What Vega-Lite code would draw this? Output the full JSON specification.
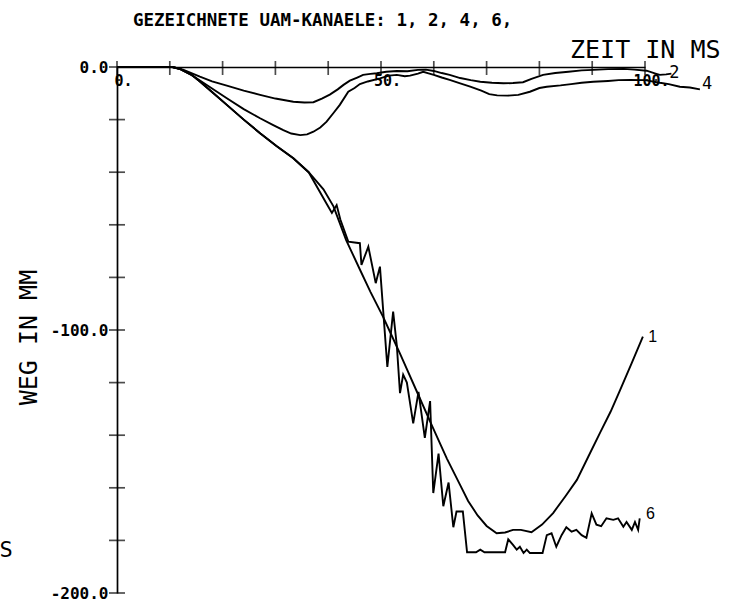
{
  "$schema": "https://vega.github.io/schema/vega-lite/v6.json",
  "width": 528,
  "height": 526,
  "autosize": "none",
  "padding": {"left": 117, "top": 67, "right": 91, "bottom": 7},
  "background": "white",
  "title": {
    "text": "GEZEICHNETE UAM-KANAELE: 1, 2, 4, 6,",
    "anchor": "start",
    "frame": "group",
    "dx": 16,
    "offset": 8,
    "font": "DejaVu Sans Mono",
    "fontSize": 17.5,
    "fontWeight": "bold",
    "color": "black"
  },
  "config": {
    "view": {"stroke": null},
    "axis": {"grid": false, "domainColor": "black", "tickColor": "black", "labelColor": "black", "titleColor": "black", "domainWidth": 1.7, "tickWidth": 1.7}
  },
  "resolve": {"axis": {"x": "independent", "y": "independent"}},
  "datasets": {
    "curves": [
      {"k": "1", "t": 0, "v": 0}, {"k": "1", "t": 10.5, "v": 0}, {"k": "1", "t": 12, "v": -0.8}, {"k": "1", "t": 14, "v": -2.8}, {"k": "1", "t": 15.7, "v": -5.5}, {"k": "1", "t": 18, "v": -9.5}, {"k": "1", "t": 20.8, "v": -14.4}, {"k": "1", "t": 24, "v": -20}, {"k": "1", "t": 27.1, "v": -25.2}, {"k": "1", "t": 30.2, "v": -30}, {"k": "1", "t": 33.4, "v": -34.7}, {"k": "1", "t": 36.3, "v": -40}, {"k": "1", "t": 39.1, "v": -46.5}, {"k": "1", "t": 41, "v": -53}, {"k": "1", "t": 43.4, "v": -65.8}, {"k": "1", "t": 46, "v": -77}, {"k": "1", "t": 48, "v": -85.5}, {"k": "1", "t": 50.4, "v": -95}, {"k": "1", "t": 52, "v": -102}, {"k": "1", "t": 53.6, "v": -109}, {"k": "1", "t": 56.7, "v": -123}, {"k": "1", "t": 59.8, "v": -137}, {"k": "1", "t": 62.5, "v": -149}, {"k": "1", "t": 65, "v": -159}, {"k": "1", "t": 66.5, "v": -165}, {"k": "1", "t": 68.3, "v": -170.5}, {"k": "1", "t": 70, "v": -174.5}, {"k": "1", "t": 71.9, "v": -177.3}, {"k": "1", "t": 73.5, "v": -177}, {"k": "1", "t": 75, "v": -176}, {"k": "1", "t": 76.5, "v": -176}, {"k": "1", "t": 78.5, "v": -176.9}, {"k": "1", "t": 80.5, "v": -174}, {"k": "1", "t": 82.6, "v": -169.6}, {"k": "1", "t": 85, "v": -163}, {"k": "1", "t": 87.1, "v": -157}, {"k": "1", "t": 89.3, "v": -148}, {"k": "1", "t": 91.5, "v": -139}, {"k": "1", "t": 93.5, "v": -131}, {"k": "1", "t": 95.3, "v": -122.8}, {"k": "1", "t": 97.5, "v": -112.5}, {"k": "1", "t": 99.6, "v": -102.5},

      {"k": "6", "t": 0, "v": 0}, {"k": "6", "t": 10.5, "v": 0}, {"k": "6", "t": 12, "v": -0.8}, {"k": "6", "t": 14, "v": -2.8}, {"k": "6", "t": 15.7, "v": -5.5}, {"k": "6", "t": 18, "v": -9.5}, {"k": "6", "t": 20.8, "v": -14.4}, {"k": "6", "t": 24, "v": -20}, {"k": "6", "t": 27.1, "v": -25.2}, {"k": "6", "t": 30.2, "v": -30}, {"k": "6", "t": 33.4, "v": -34.7}, {"k": "6", "t": 36.3, "v": -40}, {"k": "6", "t": 39.7, "v": -52}, {"k": "6", "t": 40.7, "v": -55.5}, {"k": "6", "t": 41.6, "v": -52.5}, {"k": "6", "t": 42.3, "v": -58}, {"k": "6", "t": 43.8, "v": -66.4}, {"k": "6", "t": 46, "v": -67}, {"k": "6", "t": 46.3, "v": -75.3}, {"k": "6", "t": 47.6, "v": -68.3}, {"k": "6", "t": 49, "v": -82.2}, {"k": "6", "t": 49.8, "v": -75.9}, {"k": "6", "t": 51.2, "v": -114}, {"k": "6", "t": 52.3, "v": -93}, {"k": "6", "t": 53, "v": -106}, {"k": "6", "t": 53.6, "v": -124}, {"k": "6", "t": 54.2, "v": -117}, {"k": "6", "t": 54.9, "v": -120}, {"k": "6", "t": 56.1, "v": -135.5}, {"k": "6", "t": 57.1, "v": -123.5}, {"k": "6", "t": 58.3, "v": -141}, {"k": "6", "t": 59.3, "v": -127}, {"k": "6", "t": 59.9, "v": -162}, {"k": "6", "t": 60.9, "v": -147}, {"k": "6", "t": 61.8, "v": -167}, {"k": "6", "t": 62.8, "v": -158}, {"k": "6", "t": 63.7, "v": -175}, {"k": "6", "t": 64.3, "v": -169}, {"k": "6", "t": 65.5, "v": -169}, {"k": "6", "t": 66.3, "v": -184.5}, {"k": "6", "t": 68, "v": -184.5}, {"k": "6", "t": 68.8, "v": -183.5}, {"k": "6", "t": 69.6, "v": -184.5}, {"k": "6", "t": 73.5, "v": -184.5}, {"k": "6", "t": 74.1, "v": -179.6}, {"k": "6", "t": 75, "v": -181.7}, {"k": "6", "t": 75.7, "v": -183.5}, {"k": "6", "t": 76.3, "v": -182.4}, {"k": "6", "t": 77, "v": -184.8}, {"k": "6", "t": 77.6, "v": -183.5}, {"k": "6", "t": 78.2, "v": -184.8}, {"k": "6", "t": 80.6, "v": -184.8}, {"k": "6", "t": 81.4, "v": -178}, {"k": "6", "t": 82.3, "v": -177.3}, {"k": "6", "t": 83.2, "v": -182.4}, {"k": "6", "t": 84.2, "v": -178}, {"k": "6", "t": 85.1, "v": -175}, {"k": "6", "t": 86.1, "v": -176.7}, {"k": "6", "t": 87, "v": -176}, {"k": "6", "t": 88, "v": -178}, {"k": "6", "t": 88.9, "v": -179}, {"k": "6", "t": 89.9, "v": -169.7}, {"k": "6", "t": 90.8, "v": -174}, {"k": "6", "t": 91.7, "v": -174.6}, {"k": "6", "t": 92.7, "v": -171.6}, {"k": "6", "t": 94, "v": -172.2}, {"k": "6", "t": 94.9, "v": -171.6}, {"k": "6", "t": 95.9, "v": -174.8}, {"k": "6", "t": 96.5, "v": -173}, {"k": "6", "t": 97.5, "v": -176}, {"k": "6", "t": 98.1, "v": -173}, {"k": "6", "t": 98.7, "v": -176}, {"k": "6", "t": 99, "v": -171.6},

      {"k": "2", "t": 0, "v": 0}, {"k": "2", "t": 10.5, "v": 0}, {"k": "2", "t": 12.5, "v": -1}, {"k": "2", "t": 15.7, "v": -3.7}, {"k": "2", "t": 18, "v": -5.5}, {"k": "2", "t": 20.8, "v": -7.1}, {"k": "2", "t": 24, "v": -9}, {"k": "2", "t": 27.1, "v": -10.6}, {"k": "2", "t": 30, "v": -12}, {"k": "2", "t": 33.4, "v": -13.2}, {"k": "2", "t": 35.5, "v": -13.5}, {"k": "2", "t": 37.2, "v": -13.4}, {"k": "2", "t": 38.8, "v": -12}, {"k": "2", "t": 40.3, "v": -10.5}, {"k": "2", "t": 41.8, "v": -8.5}, {"k": "2", "t": 42.9, "v": -6.8}, {"k": "2", "t": 44.1, "v": -5.2}, {"k": "2", "t": 45.5, "v": -4}, {"k": "2", "t": 46.6, "v": -3}, {"k": "2", "t": 48, "v": -2.6}, {"k": "2", "t": 49.2, "v": -2.4}, {"k": "2", "t": 51, "v": -1.8}, {"k": "2", "t": 53, "v": -1.5}, {"k": "2", "t": 55, "v": -1.6}, {"k": "2", "t": 57, "v": -1.1}, {"k": "2", "t": 58.5, "v": -1}, {"k": "2", "t": 60, "v": -1.5}, {"k": "2", "t": 61.5, "v": -2.3}, {"k": "2", "t": 63, "v": -3}, {"k": "2", "t": 65, "v": -4.2}, {"k": "2", "t": 67, "v": -5}, {"k": "2", "t": 68.8, "v": -5.6}, {"k": "2", "t": 71, "v": -6}, {"k": "2", "t": 73.2, "v": -6.2}, {"k": "2", "t": 75, "v": -6.1}, {"k": "2", "t": 76.9, "v": -5.8}, {"k": "2", "t": 78.5, "v": -4.5}, {"k": "2", "t": 80.7, "v": -3}, {"k": "2", "t": 83, "v": -2.3}, {"k": "2", "t": 85.5, "v": -1.8}, {"k": "2", "t": 88, "v": -1.3}, {"k": "2", "t": 90.2, "v": -1.1}, {"k": "2", "t": 93, "v": -0.8}, {"k": "2", "t": 96, "v": -0.7}, {"k": "2", "t": 98, "v": -1}, {"k": "2", "t": 100.3, "v": -1.4}, {"k": "2", "t": 102, "v": -2.5}, {"k": "2", "t": 102.8, "v": -3}, {"k": "2", "t": 104, "v": -2.8}, {"k": "2", "t": 105, "v": -2.5},

      {"k": "4", "t": 0, "v": 0}, {"k": "4", "t": 10.5, "v": 0}, {"k": "4", "t": 12, "v": -0.8}, {"k": "4", "t": 14.5, "v": -3.5}, {"k": "4", "t": 17.5, "v": -7.5}, {"k": "4", "t": 20.8, "v": -11.9}, {"k": "4", "t": 24, "v": -16}, {"k": "4", "t": 27.1, "v": -19.5}, {"k": "4", "t": 29.5, "v": -22}, {"k": "4", "t": 31.5, "v": -24}, {"k": "4", "t": 33, "v": -25.3}, {"k": "4", "t": 34.7, "v": -25.9}, {"k": "4", "t": 36, "v": -25.6}, {"k": "4", "t": 37.2, "v": -24.6}, {"k": "4", "t": 38.5, "v": -23}, {"k": "4", "t": 39.7, "v": -20.8}, {"k": "4", "t": 41, "v": -17.5}, {"k": "4", "t": 42.2, "v": -14.4}, {"k": "4", "t": 43.8, "v": -9.4}, {"k": "4", "t": 45, "v": -8}, {"k": "4", "t": 46, "v": -6.5}, {"k": "4", "t": 47.5, "v": -5.5}, {"k": "4", "t": 49.8, "v": -4.3}, {"k": "4", "t": 51.5, "v": -3.3}, {"k": "4", "t": 53, "v": -3}, {"k": "4", "t": 54.5, "v": -3.5}, {"k": "4", "t": 55.5, "v": -3.3}, {"k": "4", "t": 57, "v": -2.5}, {"k": "4", "t": 58, "v": -1.8}, {"k": "4", "t": 59, "v": -2.4}, {"k": "4", "t": 60, "v": -3}, {"k": "4", "t": 61.5, "v": -4}, {"k": "4", "t": 63, "v": -4.9}, {"k": "4", "t": 65, "v": -6.2}, {"k": "4", "t": 66.9, "v": -7.5}, {"k": "4", "t": 69, "v": -9}, {"k": "4", "t": 70.5, "v": -10.3}, {"k": "4", "t": 72, "v": -10.8}, {"k": "4", "t": 74, "v": -10.9}, {"k": "4", "t": 76, "v": -10.6}, {"k": "4", "t": 78.2, "v": -9.4}, {"k": "4", "t": 80, "v": -8}, {"k": "4", "t": 81.4, "v": -7.5}, {"k": "4", "t": 84, "v": -7}, {"k": "4", "t": 86, "v": -6.5}, {"k": "4", "t": 88, "v": -6}, {"k": "4", "t": 90.2, "v": -5.6}, {"k": "4", "t": 93, "v": -5.3}, {"k": "4", "t": 95, "v": -5}, {"k": "4", "t": 97.2, "v": -4.9}, {"k": "4", "t": 100, "v": -5}, {"k": "4", "t": 102.8, "v": -6}, {"k": "4", "t": 104.5, "v": -6.5}, {"k": "4", "t": 106.6, "v": -7.5}, {"k": "4", "t": 108.5, "v": -7.8}, {"k": "4", "t": 110.4, "v": -8.5}
    ],
    "xticks": [{"t": 0}, {"t": 10}, {"t": 20}, {"t": 30}, {"t": 40}, {"t": 50}, {"t": 60}, {"t": 70}, {"t": 80}, {"t": 90}, {"t": 100}],
    "yticks": [{"v": 0}, {"v": -20}, {"v": -40}, {"v": -60}, {"v": -80}, {"v": -100}, {"v": -120}, {"v": -140}, {"v": -160}, {"v": -180}, {"v": -200}],
    "bigLabels": [
      {"lab": "2", "t": 104.6, "v": -2.2},
      {"lab": "4", "t": 110.8, "v": -6.3}
    ],
    "smallLabels": [
      {"lab": "1", "t": 100.6, "v": -102.7},
      {"lab": "6", "t": 100.2, "v": -170}
    ],
    "stray": [
      {"lab": "S", "t": -21, "v": -183.7}
    ]
  },
  "layer": [
    {
      "data": {"name": "curves"},
      "mark": {"type": "line", "color": "black", "strokeWidth": 1.9, "clip": false},
      "encoding": {
        "x": {"field": "t", "type": "quantitative",
          "scale": {"domain": [0, 100], "nice": false, "zero": false},
          "axis": {"orient": "bottom", "offset": -526, "values": [0,10,20,30,40,50,60,70,80,90,100], "ticks": false,
            "labelExpr": "datum.value % 50 == 0 ? datum.value + '.' : ''",
            "labelFont": "DejaVu Sans Mono", "labelFontSize": 15, "labelFontWeight": "bold", "labelPadding": 6,
            "labelAlign": "center", "labelBaseline": "top", "labelOffset": 6, "labelFlush": false, "labelOverlap": false,
            "title": "ZEIT IN MS", "titleFont": "DejaVu Sans Mono", "titleFontSize": 25, "titleFontWeight": "normal",
            "titleX": 603, "titleY": -10, "titleAlign": "right", "titleBaseline": "alphabetic", "titleAnchor": null}},
        "y": {"field": "v", "type": "quantitative",
          "scale": {"domain": [-200, 0], "nice": false, "zero": false},
          "axis": {"orient": "left", "values": [0,-20,-40,-60,-80,-100,-120,-140,-160,-180,-200], "ticks": false,
            "labelExpr": "datum.value % 100 == 0 ? (datum.value == 0 ? '0.0' : '-' + format(-datum.value, '.1f')) : ''",
            "labelFont": "DejaVu Sans Mono", "labelFontSize": 16, "labelFontWeight": "bold", "labelPadding": 9,
            "labelAlign": "right", "labelBaseline": "middle", "labelFlush": false, "labelOverlap": false,
            "title": "WEG IN MM", "titleFont": "DejaVu Sans Mono", "titleFontSize": 25, "titleFontWeight": "normal",
            "titleX": -89, "titleY": 270, "titleAngle": -90, "titleAlign": "center", "titleBaseline": "middle", "titleAnchor": null}},
        "detail": {"field": "k", "type": "nominal"}
      }
    },
    {
      "data": {"name": "xticks"},
      "mark": {"type": "tick", "orient": "vertical", "size": 14, "thickness": 1.7, "color": "black", "clip": false},
      "encoding": {
        "x": {"field": "t", "type": "quantitative", "axis": null},
        "y": {"datum": 0, "type": "quantitative", "axis": null},
        "yOffset": {"value": 1}
      }
    },
    {
      "data": {"name": "yticks"},
      "mark": {"type": "tick", "orient": "horizontal", "size": 16, "thickness": 1.7, "color": "black", "clip": false},
      "encoding": {
        "y": {"field": "v", "type": "quantitative", "axis": null},
        "x": {"datum": 0, "type": "quantitative", "axis": null}
      }
    },
    {
      "data": {"name": "bigLabels"},
      "mark": {"type": "text", "font": "DejaVu Sans Mono", "fontSize": 17, "align": "left", "baseline": "middle", "color": "black", "clip": false},
      "encoding": {
        "x": {"field": "t", "type": "quantitative", "axis": null},
        "y": {"field": "v", "type": "quantitative", "axis": null},
        "text": {"field": "lab"}
      }
    },
    {
      "data": {"name": "smallLabels"},
      "mark": {"type": "text", "font": "Liberation Sans", "fontSize": 16, "align": "left", "baseline": "middle", "color": "black", "clip": false},
      "encoding": {
        "x": {"field": "t", "type": "quantitative", "axis": null},
        "y": {"field": "v", "type": "quantitative", "axis": null},
        "text": {"field": "lab"}
      }
    },
    {
      "data": {"name": "stray"},
      "mark": {"type": "text", "font": "DejaVu Sans Mono", "fontSize": 22, "align": "center", "baseline": "middle", "color": "black", "clip": false},
      "encoding": {
        "x": {"field": "t", "type": "quantitative", "axis": null},
        "y": {"field": "v", "type": "quantitative", "axis": null},
        "text": {"field": "lab"}
      }
    }
  ]
}
